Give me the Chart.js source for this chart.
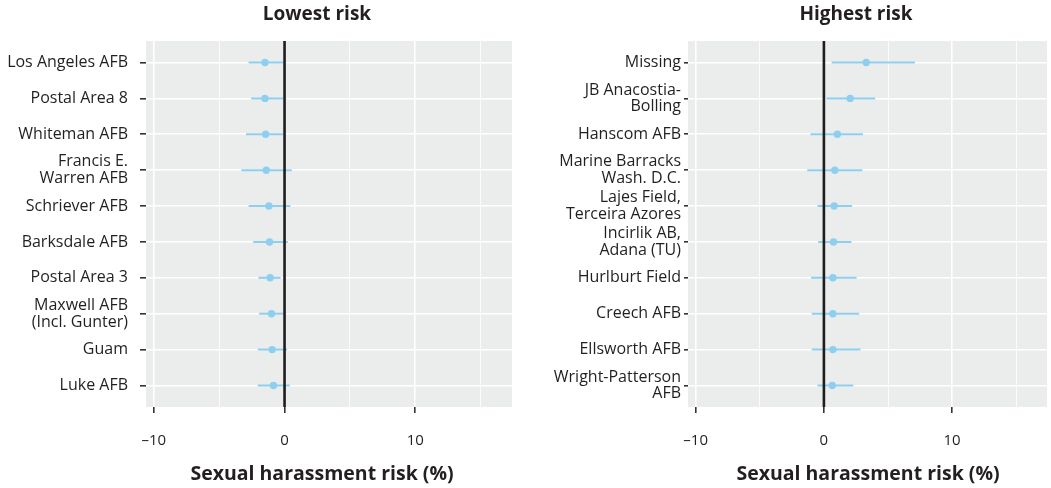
<!DOCTYPE html>
<html>
<head>
<meta charset="utf-8">
<script src="https://cdn.jsdelivr.net/npm/chart.js@4.4.1/dist/chart.umd.min.js"></script>
<style>
  body { margin: 0; background: #fff; font-family: "Open Sans", sans-serif; }
  #wrap { position: relative; width: 1051px; height: 488px; overflow: hidden; }
  .box { position: absolute; top: 0; height: 488px; }
  .ttl { position: absolute; transform: translateX(-50%); white-space: nowrap; font-weight: bold; color: #231f20; line-height: 1.2; }
  .head { top: 2px; font-size: 19px; }
  .axt { top: 461px; font-size: 19.5px; }
</style>
</head>
<body>
<div id="wrap">
  <div class="box" style="left:0;width:525px"><canvas id="lowChart" width="525" height="488"></canvas></div>
  <div class="box" style="left:525px;width:526px"><canvas id="highChart" width="526" height="488"></canvas></div>
  <div class="ttl head" style="left:317px">Lowest risk</div>
  <div class="ttl head" style="left:856px">Highest risk</div>
  <div class="ttl axt" style="left:322px">Sexual harassment risk (%)</div>
  <div class="ttl axt" style="left:868px">Sexual harassment risk (%)</div>
</div>
<script>
// lowest risk installations
const lowNames = ['Los Angeles AFB', 'Postal Area 8', 'Whiteman AFB', ['Francis E.', 'Warren AFB'], 'Schriever AFB',
  'Barksdale AFB', 'Postal Area 3', ['Maxwell AFB', '(Incl. Gunter)'], 'Guam', 'Luke AFB'];
const lowEst = [-1.5, -1.5, -1.45, -1.4, -1.2, -1.15, -1.1, -1.0, -0.95, -0.85];
const lowLo = [-2.75, -2.55, -2.95, -3.3, -2.75, -2.4, -2.0, -1.95, -2.05, -2.05];
const lowHi = [-0.1, -0.1, -0.1, 0.55, 0.45, 0.25, -0.3, -0.1, 0.2, 0.4];

// highest risk installations
const highNames = ['Missing', ['JB Anacostia-', 'Bolling'], 'Hanscom AFB', ['Marine Barracks', 'Wash. D.C.'],
  ['Lajes Field,', 'Terceira Azores'], ['Incirlik AB,', 'Adana (TU)'], 'Hurlburt Field', 'Creech AFB',
  'Ellsworth AFB', ['Wright-Patterson', 'AFB']];
const highEst = [3.3, 2.05, 1.05, 0.85, 0.8, 0.75, 0.7, 0.7, 0.7, 0.65];
const highLo = [0.6, 0.2, -1.05, -1.3, -0.5, -0.45, -1.0, -0.95, -0.95, -0.5];
const highHi = [7.1, 4.0, 3.05, 3.0, 2.2, 2.15, 2.55, 2.75, 2.85, 2.3];

const xTicks = [-10, -5, 0, 5, 10, 15];

const blue = '#8ecff0';
const panelBg = '#ebecec';

const panelFill = {
  id: 'panelFill',
  beforeDraw(chart) {
    const a = chart.chartArea;
    const c = chart.ctx;
    c.save();
    c.fillStyle = panelBg;
    c.fillRect(a.left, a.top, a.right - a.left, a.bottom - a.top);
    c.restore();
  }
};

function makeChart(id, names, est, lo, hi, o) {
  const datasets = [];
  // zero reference line on top
  datasets.push({
    type: 'line',
    data: [{x: 0, y: 0.4}, {x: 0, y: names.length + 0.6}],
    borderColor: '#1e1e1e', borderWidth: 2.6, pointRadius: 0, order: 0
  });
  datasets.push({
    type: 'scatter',
    data: est.map((v, i) => ({x: v, y: i + 1})),
    backgroundColor: blue, borderColor: blue, pointRadius: 3.7, borderWidth: 0, order: 1
  });
  names.forEach((n, i) => {
    datasets.push({
      type: 'line',
      data: [{x: lo[i], y: i + 1}, {x: hi[i], y: i + 1}],
      borderColor: blue, borderWidth: 2, pointRadius: 0, order: 2
    });
  });

  const ctx = document.getElementById(id).getContext('2d');
  return new Chart(ctx, {
    data: {datasets: datasets},
    plugins: [panelFill],
    options: {
      responsive: false,
      animation: false,
      layout: {padding: {top: 41, right: o.padRight, bottom: 0, left: 0}},
      plugins: {legend: {display: false}, tooltip: {enabled: false}},
      scales: {
        x: {
          type: 'linear', min: -10.6, max: o.xMax,
          afterBuildTicks: s => { s.ticks = xTicks.map(v => ({value: v})); },
          afterFit: s => { s.height = 81; },
          border: {display: false},
          grid: {
            color: '#ffffff',
            lineWidth: c => (c.tick && c.tick.value % 10 === 0) ? 1.6 : 0.8,
            tickColor: c => (c.tick && c.tick.value % 10 === 0) ? '#333333' : 'rgba(0,0,0,0)',
            tickLength: 6
          },
          ticks: {
            color: '#231f20', padding: 19, maxRotation: 0,
            font: {family: 'Open Sans', size: 15},
            callback: v => v % 10 !== 0 ? '' : (v < 0 ? '\u2013' + Math.abs(v) : String(v))
          }
        },
        y: {
          type: 'linear', reverse: true, min: 0.4, max: names.length + 0.6,
          afterBuildTicks: s => { s.ticks = names.map((n, i) => ({value: i + 1})); },
          afterFit: s => { s.width = o.yWidth; },
          border: {display: false},
          grid: {color: '#ffffff', lineWidth: 1.6, tickColor: '#333333', tickLength: o.tickLen},
          ticks: {
            color: '#231f20', padding: o.tickPad,
            font: {family: 'Open Sans', size: 16, lineHeight: 1.05},
            callback: v => names[v - 1]
          }
        }
      }
    }
  });
}

makeChart('lowChart', lowNames, lowEst, lowLo, lowHi, {xMax: 17.4, padRight: 13, yWidth: 146, tickLen: 6, tickPad: 12});
makeChart('highChart', highNames, highEst, highLo, highHi, {xMax: 17.4, padRight: 0, yWidth: 163, tickLen: 4, tickPad: 3});
</script>
</body>
</html>
